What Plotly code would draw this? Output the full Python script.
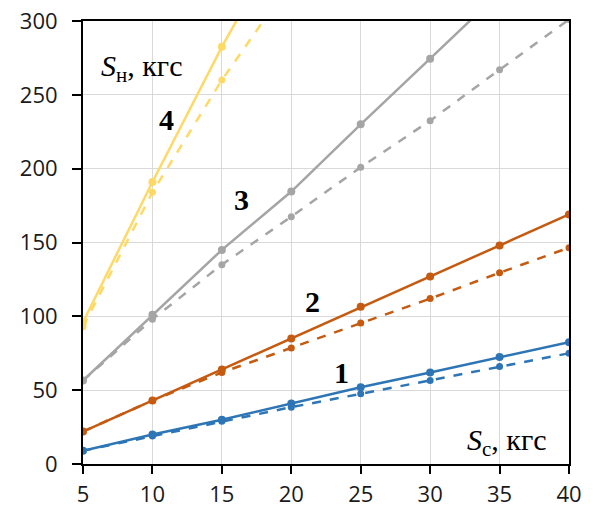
import plotly.graph_objects as go

x_vals = [5, 10, 15, 20, 25, 30, 35, 40]

s1_solid = [9, 20, 30, 41, 52, 62, 72.5, 82.5]
s1_dash = [9, 19, 29, 38.5, 47.5, 56.5, 66, 75]
s2_solid = [22, 43, 64, 85, 106.5, 127, 148, 169]
s2_dash = [22, 43, 62, 78.5, 95.5, 112, 129.5, 146.5]
s3_solid = [56.5, 101, 145, 184.5, 230, 274.5, 319, 364]
s3_dash = [56.5, 98, 135, 167.5, 201, 232.5, 267, 301]
s4_solid = [96, 191, 282.5, 366, 450, 534, 618, 702]
s4_dash = [93, 184, 260, 327, 394, 461, 528, 595]

x_ticks = [5, 10, 15, 20, 25, 30, 35, 40]
y_ticks = [0, 50, 100, 150, 200, 250, 300]

colors = {
    "1": "#2E75B6",
    "2": "#C55A11",
    "3": "#A5A5A5",
    "4": "#FFD966",
}

series = [
    ("1", s1_solid, s1_dash),
    ("2", s2_solid, s2_dash),
    ("3", s3_solid, s3_dash),
    ("4", s4_solid, s4_dash),
]

fig = go.Figure()
for name, solid, dash in series:
    c = colors[name]
    fig.add_trace(go.Scatter(x=x_vals, y=dash, mode="lines+markers",
                             line=dict(color=c, width=2.5, dash="dash"),
                             marker=dict(color=c, size=7), showlegend=False))
    fig.add_trace(go.Scatter(x=x_vals, y=solid, mode="lines+markers",
                             line=dict(color=c, width=2.5),
                             marker=dict(color=c, size=8), showlegend=False))

serif = "Liberation Serif, Times New Roman, serif"
num_labels = [("4", 11.0, 233), ("3", 16.45, 179), ("2", 21.5, 110), ("1", 23.6, 62)]
for t, xx, yy in num_labels:
    fig.add_annotation(x=xx, y=yy, xref="x", yref="y", text="<b>" + t + "</b>",
                       showarrow=False, font=dict(family=serif, size=30, color="black"))

fig.add_annotation(x=9.2, y=268, xref="x", yref="y",
                   text="<i>S</i><sub>н</sub>, кгс", showarrow=False,
                   font=dict(family=serif, size=30, color="black"))
fig.add_annotation(x=35.5, y=15, xref="x", yref="y",
                   text="<i>S</i><sub>с</sub>, кгс", showarrow=False,
                   font=dict(family=serif, size=30, color="black"))

fig.update_layout(
    width=593, height=511,
    margin=dict(l=83, r=24, t=21, b=47, autoexpand=False),
    plot_bgcolor="white", paper_bgcolor="white",
    font=dict(family="Open Sans, Liberation Sans, sans-serif", size=22, color="#1a1a1a"),
)
fig.update_xaxes(range=[5, 40], tickvals=x_ticks, showgrid=True, gridcolor="#D9D9D9",
                 gridwidth=1, showline=True, linecolor="black", linewidth=2, mirror=True,
                 ticks="outside", ticklen=8, tickcolor="black", tickwidth=1.5,
                 zeroline=False, tickfont=dict(size=22), automargin=False,
                 ticklabelstandoff=2, ticklabeloverflow="allow")
fig.update_yaxes(range=[0, 300], tickvals=y_ticks, showgrid=True, gridcolor="#D9D9D9",
                 gridwidth=1, showline=True, linecolor="black", linewidth=2, mirror=True,
                 ticks="outside", ticklen=9, tickcolor="black", tickwidth=1.5,
                 zeroline=False, tickfont=dict(size=22), automargin=False,
                 ticklabelstandoff=10, ticklabeloverflow="allow")

fig.write_html("out.html", config={"displayModeBar": False},
               post_script="document.body.style.margin='0';")
